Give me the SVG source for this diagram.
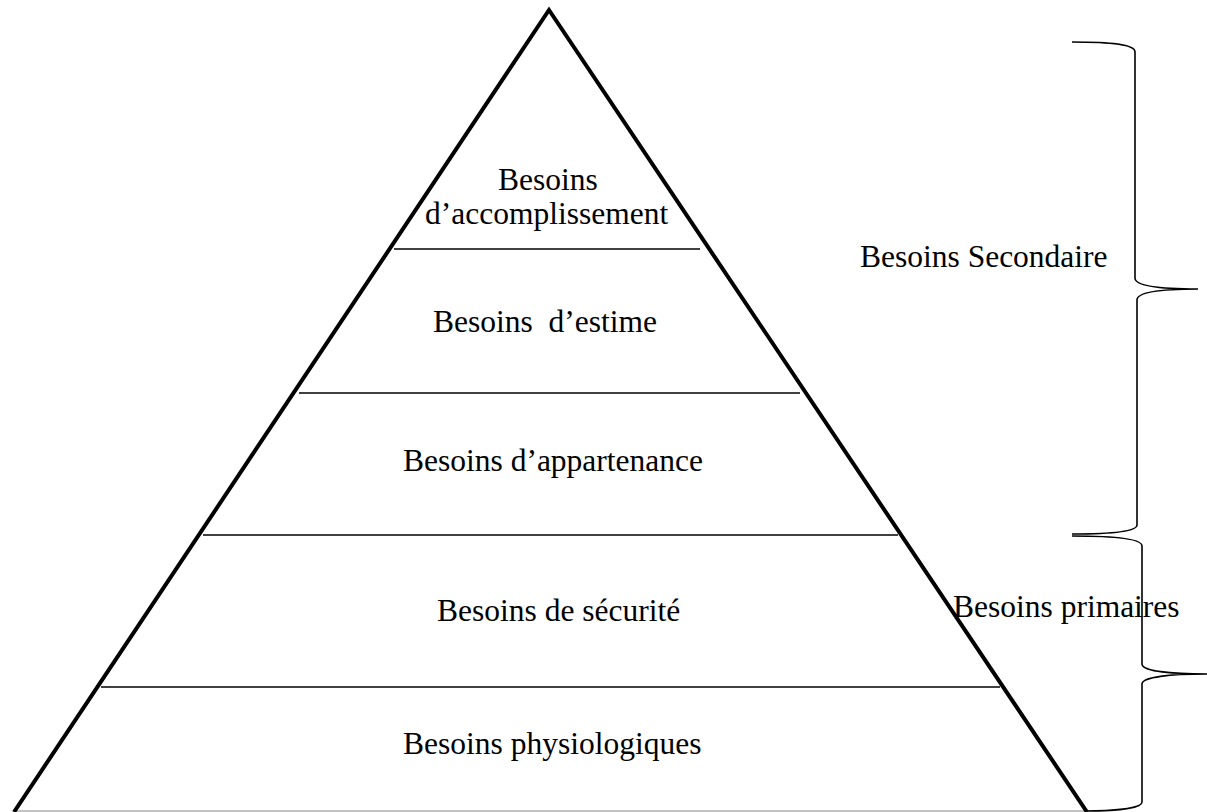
<svg xmlns="http://www.w3.org/2000/svg" width="1207" height="812" viewBox="0 0 1207 812">
  <style>
    .lbl { font-family: "Liberation Serif", "Times New Roman", serif; font-size: 31.5px; fill: #000; }
    .tier { stroke: #000; stroke-width: 1.6; fill: none; }
    .brace { stroke: #000; stroke-width: 1.6; fill: none; }
  </style>
  <rect width="1207" height="812" fill="#fff"/>

  <!-- pyramid outline -->
  <g id="pyramid">
    <line x1="14" y1="811" x2="1087" y2="811" stroke="#888" stroke-width="1.2"/>
    <polyline points="14,812 549,10 1087,812" fill="none" stroke="#000" stroke-width="4" stroke-linejoin="miter"/>
  </g>

  <!-- tier dividers -->
  <g id="dividers">
    <line class="tier" x1="394" y1="249" x2="700" y2="249"/>
    <line class="tier" x1="299" y1="393" x2="800" y2="393"/>
    <line class="tier" x1="203" y1="535" x2="898" y2="535"/>
    <line class="tier" x1="101" y1="687" x2="1000" y2="687"/>
  </g>

  <g id="tier-accomplissement">
    <text class="lbl" x="498" y="190">Besoins</text>
    <text class="lbl" x="425" y="224">d’accomplissement</text>
  </g>
  <g id="tier-estime">
    <text class="lbl" x="433" y="332" xml:space="preserve">Besoins  d’estime</text>
  </g>
  <g id="tier-appartenance">
    <text class="lbl" x="403" y="471">Besoins d’appartenance</text>
  </g>
  <g id="tier-securite">
    <text class="lbl" x="437" y="621">Besoins de sécurité</text>
  </g>
  <g id="tier-physiologiques">
    <text class="lbl" x="403" y="754">Besoins physiologiques</text>
  </g>

  <!-- grouping braces -->
  <g id="braces">
    <path class="brace" d="M1072,42 C1110,42 1135,44 1135,52 L1135,278 C1135,286 1160,289 1198,289 C1160,289 1137,292 1137,300 L1137,525 C1137,532 1110,534 1072,534"/>
    <path class="brace" d="M1072,536 C1110,536 1142,538 1142,546 L1142,664 C1142,671 1170,674 1207,674 C1170,674 1142,677 1142,684 L1142,802 C1142,809 1110,811 1085,811"/>
  </g>

  <g id="group-secondaire">
    <text class="lbl" x="860" y="267">Besoins Secondaire</text>
  </g>
  <g id="group-primaires">
    <text class="lbl" x="953" y="617">Besoins primaires</text>
  </g>
</svg>
